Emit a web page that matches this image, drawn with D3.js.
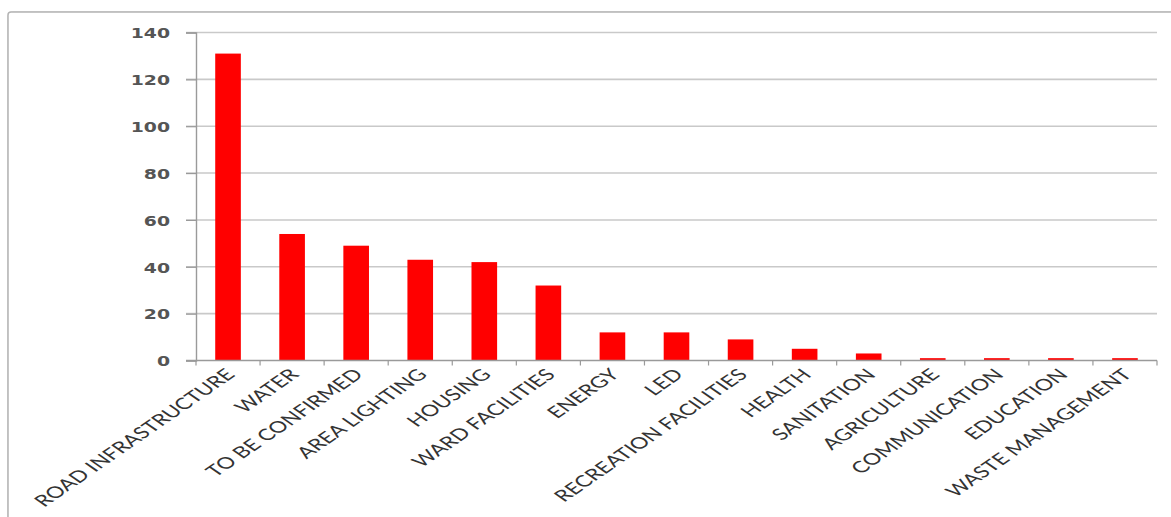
<!DOCTYPE html>
<html>
<head>
<meta charset="utf-8">
<script src="https://cdn.jsdelivr.net/npm/d3@7"></script>
<style>
  html, body { margin: 0; padding: 0; background: #fff; }
  svg { display: block; }
</style>
</head>
<body>
<script>
const categories = ["ROAD INFRASTRUCTURE", "WATER", "TO BE CONFIRMED", "AREA LIGHTING", "HOUSING",
  "WARD FACILITIES", "ENERGY", "LED", "RECREATION FACILITIES", "HEALTH", "SANITATION",
  "AGRICULTURE", "COMMUNICATION", "EDUCATION", "WASTE MANAGEMENT"];
const values = [131, 54, 49, 43, 42, 32, 12, 12, 9, 5, 3, 1, 1, 1, 1];
const yTicks = [0, 20, 40, 60, 80, 100, 120, 140];

const W = 1171, H = 517;
const plotLeft = 196, plotRight = 1157, plotTop = 32.5, plotBottom = 360.5;

const svg = d3.select("body").append("svg").attr("width", W).attr("height", H);

// frame
svg.append("rect").attr("x", 9).attr("y", 13).attr("width", 1200).attr("height", 600)
  .attr("rx", 4).attr("fill", "none").attr("stroke", "#e6e6e6").attr("stroke-width", 4);
svg.append("rect").attr("x", 8).attr("y", 12).attr("width", 1200).attr("height", 600)
  .attr("rx", 3).attr("fill", "#fff").attr("stroke", "#b4b4b4").attr("stroke-width", 1.5);

const x = d3.scaleBand().domain(categories).range([plotLeft, plotRight]).paddingInner(0.6).paddingOuter(0.3);
const y = d3.scaleLinear().domain([0, 140]).range([plotBottom, plotTop]);

// gridlines
svg.append("g").selectAll("line").data(yTicks.filter(d => d > 0)).join("line")
  .attr("x1", plotLeft - 10).attr("x2", plotRight)
  .attr("y1", d => y(d)).attr("y2", d => y(d))
  .attr("stroke", "#c9c9c9").attr("stroke-width", 1.6);

// y axis
const yAxis = d3.axisLeft(y).tickValues(yTicks).tickSize(10).tickPadding(14);
const gy = svg.append("g").attr("transform", `translate(${plotLeft},0)`).call(yAxis);
gy.select(".domain").attr("stroke", "#9a9a9a").attr("stroke-width", 1.4);
gy.selectAll(".tick line").attr("stroke", "#9a9a9a").attr("stroke-width", 1.2);
gy.selectAll(".tick text")
  .attr("font-family", "DejaVu Sans, sans-serif").attr("font-weight", "bold")
  .attr("font-size", "14.5px").attr("fill", "#555")
  .attr("x", 0).attr("dy", "0.36em")
  .attr("transform", "translate(-26,0) scale(1.3,1)");

// bars
svg.append("g").selectAll("rect").data(values).join("rect")
  .attr("x", (d, i) => x(categories[i]))
  .attr("width", x.bandwidth())
  .attr("y", d => y(d))
  .attr("height", d => y(0) - y(d))
  .attr("fill", "#ff0000");

// x axis
const boundaries = categories.map(c => x(c) - (x.step() - x.bandwidth()) / 2).concat([plotRight]);
svg.append("line").attr("x1", plotLeft - 10).attr("x2", plotRight).attr("y1", plotBottom).attr("y2", plotBottom)
  .attr("stroke", "#9a9a9a").attr("stroke-width", 1.4);
svg.append("g").selectAll("line").data(boundaries).join("line")
  .attr("x1", d => d).attr("x2", d => d).attr("y1", plotBottom).attr("y2", plotBottom + 5)
  .attr("stroke", "#9a9a9a").attr("stroke-width", 1.2);

// x labels
svg.append("g").selectAll("text").data(categories).join("text")
  .attr("transform", c => `translate(${x(c) + x.bandwidth() / 2 + 8},${plotBottom + 15}) scale(1.45,1) rotate(-45)`)
  .attr("text-anchor", "end")
  .attr("font-family", "Lato, 'Open Sans', sans-serif")
  .attr("font-size", "16px").attr("fill", "#333")
  .text(d => d);
</script>
</body>
</html>
